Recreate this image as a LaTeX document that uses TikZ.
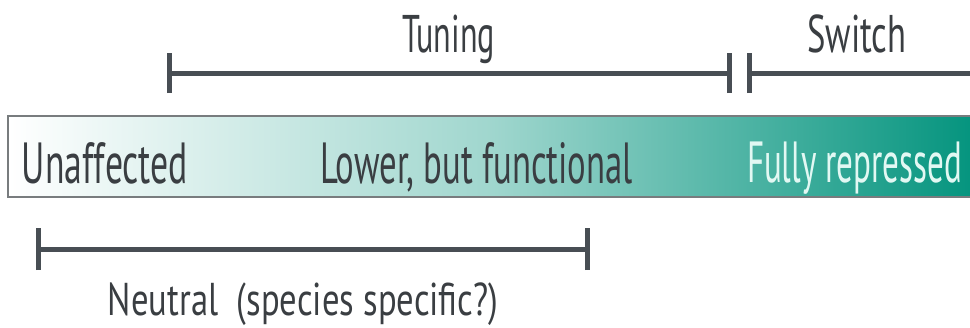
\documentclass[tikz,border=0pt]{standalone}
\usepackage{graphicx}
\usepackage{fontspec}
\setmainfont{PT Sans}
\definecolor{bargreen}{RGB}{4,148,126}
\definecolor{inkgray}{RGB}{72,78,84}
\definecolor{txtgray}{RGB}{58,62,66}
\definecolor{paletxt}{RGB}{226,248,243}
\definecolor{bordergray}{RGB}{120,124,126}
\newcommand{\fitw}[3]{\resizebox{#1pt}{\height}{\fontsize{#2}{#2}\selectfont #3}}
\begin{document}
\begin{tikzpicture}[x=1pt,y=-1pt,
  bracket/.style={draw=inkgray,line width=5pt},
  lbl/.style={text=txtgray,inner sep=0pt,anchor=base},
  palelbl/.style={lbl,text=paletxt}]
\useasboundingbox (0,0) rectangle (970,327);
% bar
\shade[left color=white,right color=bargreen,middle color=bargreen!38] (8,116) rectangle (975,197);
\draw[draw=bordergray,line width=2pt] (975,116) -- (8,116) -- (8,197) -- (975,197);
\node[lbl] (unaff) at (105,183) {\fitw{166}{58}{Unaffected}};
\node[lbl] (lower) at (476.5,183) {\fitw{313}{58}{Lower, but functional}};
\node[palelbl] (fully) at (854.5,182) {\fitw{215}{58}{Fully repressed}};
% Tuning bracket
\coordinate (tl) at (169,73);
\coordinate (tr) at (729,73);
\draw[bracket] (tl) -- (tr);
\draw[bracket] ([yshift=-20]tl) -- ([yshift=20]tl);
\draw[bracket] ([yshift=-20]tr) -- ([yshift=20]tr);
\node[lbl] (tuning) at (448.5,52) {\fitw{93}{53}{Tuning}};
% Switch bracket
\coordinate (sl) at (749,73);
\coordinate (sr) at (975,73);
\draw[bracket] (sl) -- (sr);
\draw[bracket] ([yshift=-20]sl) -- ([yshift=20]sl);
\node[lbl] (switch) at (857,52) {\fitw{99}{53}{Switch}};
% Neutral bracket
\coordinate (nl) at (38,249);
\coordinate (nr) at (587,249);
\draw[bracket] (nl) -- (nr);
\draw[bracket] ([yshift=-21]nl) -- ([yshift=21]nl);
\draw[bracket] ([yshift=-21]nr) -- ([yshift=21]nr);
\node[lbl] (neutral) at (303,315) {\fitw{390}{46}{Neutral\ \ (species specific?)}};
\end{tikzpicture}
\end{document}
